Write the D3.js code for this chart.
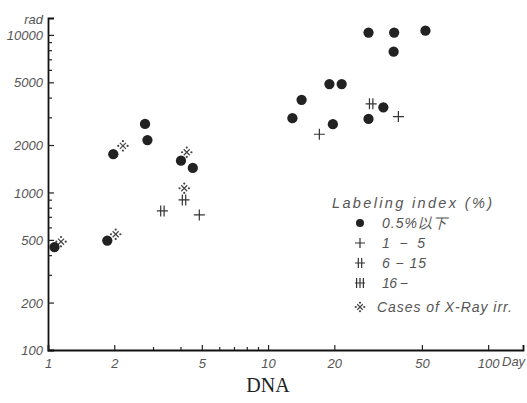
<!DOCTYPE html>
<html>
<head>
<meta charset="utf-8">
<script src="https://cdn.jsdelivr.net/npm/d3@7"></script>
<style>
body { margin: 0; background: #fff; }
svg { display: block; }
.tk text { font-family: "Liberation Sans", Arial, sans-serif; font-style: italic; font-size: 13px; fill: #555; }
.lab { font-family: "Liberation Sans", Arial, sans-serif; font-style: italic; fill: #555; }
</style>
</head>
<body>
<script>
// data: [days, rad]
var dots = [[1.07,450],[1.86,495],[1.98,1750],[2.76,2720],[2.83,2150],[4.02,1590],[4.55,1430],
            [12.9,2960],[14.2,3870],[19.0,4870],[21.6,4870],[19.7,2710],[28.6,2930],[33.4,3470],
            [28.6,10340],[37.4,10340],[51.9,10640],[37.2,7830]];
var plus1 = [[4.87,720],[17.1,2340],[39.1,3030]];
var plus2 = [[3.31,763],[4.15,896],[29.4,3650]];
var plus3 = [];
var xray = [[1.146,487],[2.03,543],[2.19,1975],[4.27,1800],[4.16,1063]];

var xMajor = [1, 2, 5, 10, 20, 50, 100];
var xMinor = [3, 4, 6, 7, 8, 9];
var yMajor = [100, 200, 500, 1000, 2000, 5000, 10000];
var yMinor = [300, 400, 600, 700, 800, 900, 3000, 4000, 6000, 7000, 8000, 9000];
var legendTitle = "Labeling index (%)";
var legendLabels = ["0.5%以下", "1 − 5", "6 − 15", "16 −", "Cases of X-Ray irr."];
var legendKinds = ["dot", "p1", "p2", "p3", "xray"];

var w = 527, h = 403;
var svg = d3.select("body").append("svg").attr("width", w).attr("height", h);

var x = d3.scaleLog().domain([1, 144]).range([48, 523]);
var y = d3.scaleLog().domain([100, 12800]).range([350, 18]);

// axes, ticks pointing inward
function styleAxis(g) {
	g.select(".domain").attr("stroke", "#111").attr("stroke-width", 1.8);
	g.selectAll(".tick line").attr("stroke", "#222").attr("stroke-width", 1.2);
}
var gy = svg.append("g").attr("class", "tk").attr("transform", "translate(48,0)")
	.call(d3.axisLeft(y).tickValues(yMajor).tickSize(-6).tickPadding(5).tickFormat(d3.format("d")));
gy.call(styleAxis);
gy.selectAll("text").attr("dy", "0.35em");
var gy2 = svg.append("g").attr("transform", "translate(48,0)")
	.call(d3.axisLeft(y).tickValues(yMinor).tickSize(-4).tickFormat(""));
gy2.call(styleAxis);
gy2.select(".domain").remove();

var gx = svg.append("g").attr("class", "tk").attr("transform", "translate(0,350)")
	.call(d3.axisBottom(x).tickValues(xMajor).tickSize(-5).tickPadding(6).tickFormat(d3.format("d")));
gx.call(styleAxis);
gx.selectAll("text").attr("dy", "0.9em");
var gx2 = svg.append("g").attr("transform", "translate(0,350)")
	.call(d3.axisBottom(x).tickValues(xMinor).tickSize(-3).tickFormat(""));
gx2.call(styleAxis);
gx2.select(".domain").remove();

// axis titles
svg.append("text").attr("class", "lab").attr("x", 43).attr("y", 24)
	.attr("text-anchor", "end").attr("font-size", 13).text("rad");
svg.append("text").attr("class", "lab").attr("x", 502).attr("y", 366)
	.attr("font-size", 13).text("Day");
svg.append("text").attr("x", 268).attr("y", 392).attr("text-anchor", "middle")
	.attr("font-family", "Liberation Serif, Times New Roman, serif").attr("font-size", 20)
	.attr("fill", "#222").text("DNA");

// symbol drawing
function crossPath(n, s) {
	var p = "M" + (-s) + ",0H" + s;
	var gap = 3.4;
	for (var i = 0; i < n; i++) {
		var cx = (i - (n - 1) / 2) * gap;
		p += "M" + cx + "," + (-s) + "V" + s;
	}
	return p;
}
function drawSymbol(g, kind, s) {
	if (kind == "dot") {
		g.append("circle").attr("r", s * 0.95).attr("fill", "#222");
	} else if (kind == "xray") {
		var a = s * 0.55;
		g.append("path").attr("d", "M" + (-a) + "," + (-a) + "L" + a + "," + a + "M" + a + "," + (-a) + "L" + (-a) + "," + a)
			.attr("stroke", "#444").attr("stroke-width", 1.2).attr("fill", "none");
		[[0, -1], [1, 0], [0, 1], [-1, 0]].forEach(function(d) {
			g.append("circle").attr("cx", d[0] * s * 0.85).attr("cy", d[1] * s * 0.85)
				.attr("r", 1.1).attr("fill", "#444");
		});
	} else {
		var n = kind == "p1" ? 1 : (kind == "p2" ? 2 : 3);
		g.append("path").attr("d", crossPath(n, s)).attr("stroke", "#333")
			.attr("stroke-width", 1.2).attr("fill", "none");
	}
}
function plotSeries(data, kind, s) {
	svg.append("g").selectAll("g").data(data).enter().append("g")
		.attr("transform", function(d) { return "translate(" + x(d[0]) + "," + y(d[1]) + ")"; })
		.each(function() { drawSymbol(d3.select(this), kind, s); });
}
plotSeries(xray, "xray", 5.5);
plotSeries(plus1, "p1", 5.5);
plotSeries(plus2, "p2", 5.5);
plotSeries(plus3, "p3", 5.5);
plotSeries(dots, "dot", 5.4);

// legend
var leg = svg.append("g");
leg.append("text").attr("class", "lab").attr("x", 332).attr("y", 208)
	.attr("font-size", 14.5).attr("textLength", 160).text(legendTitle);
var rowY = [223, 243, 263, 283, 307];
var rowLen = [65, 43, 44, 26, 135];
legendLabels.forEach(function(t, i) {
	var g = leg.append("g").attr("transform", "translate(360," + rowY[i] + ")");
	drawSymbol(g, legendKinds[i], i == 0 ? 4.2 : 5);
	leg.append("text").attr("class", "lab").attr("x", i == 4 ? 377 : 382).attr("y", rowY[i] + 5)
		.attr("font-size", 14).attr("textLength", rowLen[i]).text(t);
});
</script>
</body>
</html>
